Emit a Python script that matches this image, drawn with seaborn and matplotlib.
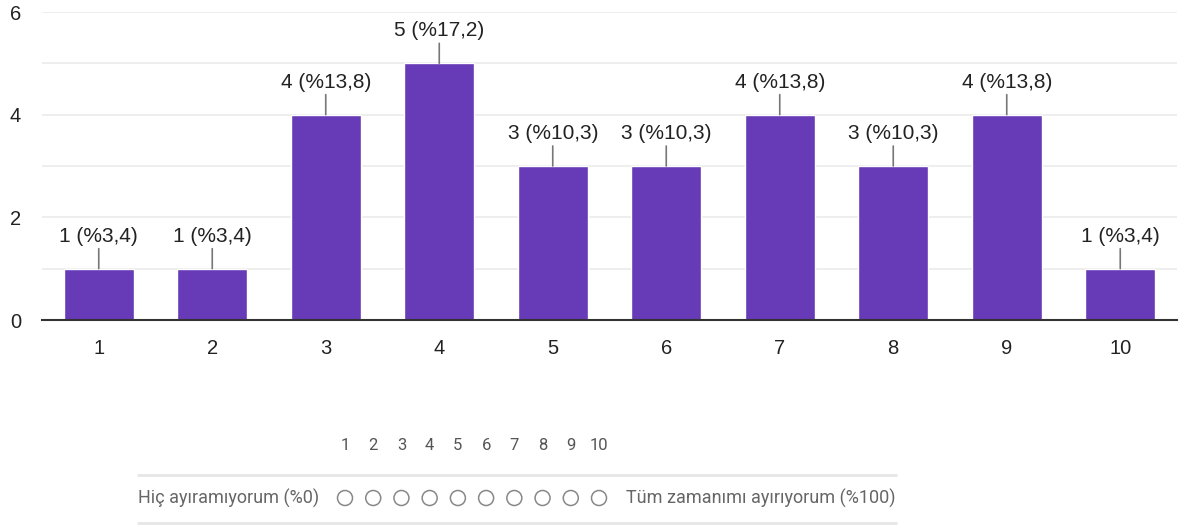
import matplotlib
import matplotlib.pyplot as plt
import seaborn as sns
import pandas as pd
from matplotlib.patches import Circle
matplotlib.use("Agg")

categories = ["1", "2", "3", "4", "5", "6", "7", "8", "9", "10"]
counts = [1, 1, 4, 5, 3, 3, 4, 3, 4, 1]
percents = ["3,4", "3,4", "13,8", "17,2", "10,3", "10,3", "13,8", "10,3", "13,8", "3,4"]
scale_labels = ["1", "2", "3", "4", "5", "6", "7", "8", "9", "10"]
left_label = "Hiç ayıramıyorum (%0)"
right_label = "Tüm zamanımı ayırıyorum (%100)"

PURPLE = "#673ab7"


def main():
    sns.set_theme(style="white")
    plt.rcParams["font.family"] = ["Liberation Sans", "DejaVu Sans"]
    df = pd.DataFrame({"cat": categories, "count": counts})

    fig = plt.figure(figsize=(11.86, 5.27), dpi=100)
    ax = fig.add_axes([42 / 1186, 1 - 320 / 527, 1135 / 1186, 308 / 527])
    sns.barplot(data=df, x="cat", y="count", color=PURPLE, saturation=1,
                width=0.62, ax=ax, zorder=3)
    ax.set_ylim(0, 6)
    ax.set_yticks([0, 2, 4, 6])
    ax.set_yticks([1, 3, 5], minor=True)
    ax.grid(axis="y", which="both", color="#ebebeb", lw=1.2, zorder=0)
    ax.set_axisbelow(True)
    ax.set_xlabel("")
    ax.set_ylabel("")
    for s in ["top", "right", "left"]:
        ax.spines[s].set_visible(False)
    ax.spines["bottom"].set_color("#333333")
    ax.spines["bottom"].set_linewidth(1.5)
    ax.spines["bottom"].set_zorder(4)
    ax.tick_params(axis="x", length=0, pad=14, labelsize=14.5, labelcolor="#222222")
    ax.tick_params(axis="y", which="both", length=0, pad=15, labelsize=14.5,
                   labelcolor="#222222")

    for i, (c, p) in enumerate(zip(counts, percents)):
        ax.annotate("", xy=(i, c), xytext=(0, 20), textcoords="offset pixels",
                    arrowprops=dict(arrowstyle="-", color="#777777", lw=1.2,
                                    shrinkA=0, shrinkB=0))
        ax.annotate(f"{c} (%{p})", xy=(i, c), xytext=(0, 23),
                    textcoords="offset pixels", ha="center", va="bottom",
                    fontsize=15, color="#222222")

    # form widget at the bottom
    wax = fig.add_axes([0, 0, 1, 1])
    wax.set_xlim(0, 1186)
    wax.set_ylim(527, 0)
    wax.axis("off")
    wax.patch.set_alpha(0)
    step = (599 - 345) / (len(scale_labels) - 1)
    for i, s in enumerate(scale_labels):
        x = 345 + i * step
        wax.text(x, 445, s, ha="center", va="center", fontsize=12,
                 color="#555555", family=["Roboto", "DejaVu Sans"])
        wax.add_patch(Circle((x, 498), 7.5, fill=False, ec="#888888", lw=1.1))
    wax.plot([138, 896], [475, 475], color="#e6e6e6", lw=2)
    wax.plot([138, 896], [523, 523], color="#e6e6e6", lw=2)
    wax.text(138, 498, left_label, ha="left", va="center", fontsize=13,
             color="#666666", family=["Roboto", "DejaVu Sans"])
    wax.text(896, 498, right_label, ha="right", va="center", fontsize=13,
             color="#666666", family=["Roboto", "DejaVu Sans"])

    fig.savefig("out.png", dpi=100, facecolor="white")
    plt.close(fig)


if __name__ == "__main__":
    main()
